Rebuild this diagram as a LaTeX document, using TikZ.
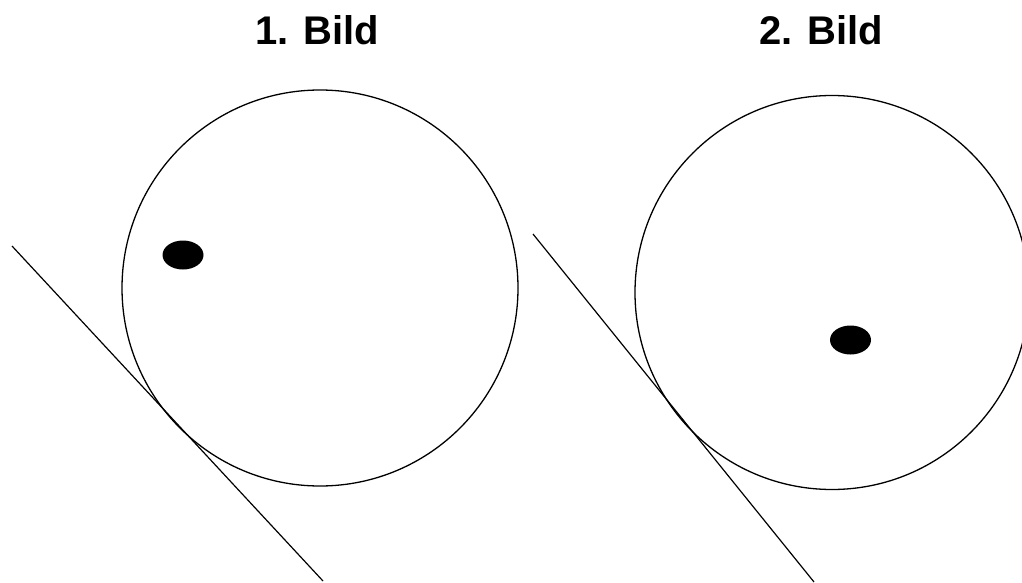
\documentclass[tikz,border=0pt]{standalone}
\usepackage{fontspec}
\setmainfont{Liberation Sans}
\usepackage{tikz}
\usetikzlibrary{positioning,calc}
\tikzset{
  titel/.style={font=\fontsize{40}{48}\selectfont\bfseries, inner sep=0pt, anchor=base},
  rand/.style={draw=black, line width=1.3pt},
  tangente/.style={draw=black, line width=1.2pt},
  punkt/.style={fill=black},
}

\begin{document}
\begin{tikzpicture}[x=1pt, y=-1pt]
\useasboundingbox (0,0) rectangle (1022,583);
\clip (0,0) rectangle (1022,583);
% Bild 1
\coordinate (m1) at (320,288);
\coordinate (a1) at (12,246);
\coordinate (b1) at (323,581);
\node[titel] (t1) at (317,45) {1. Bild};
\draw[rand] (m1) circle [radius=198];
\fill[punkt] (183,255) ellipse [x radius=20.5, y radius=14.5];
\draw[tangente] (a1) -- (b1);
% Bild 2
\coordinate (m2) at (832,292.5);
\coordinate (a2) at (533,234);
\coordinate (b2) at (814,582);
\node[titel] (t2) at (821,45) {2. Bild};
\draw[rand] (m2) circle [radius=197];
\fill[punkt] (850.5,340) ellipse [x radius=20.5, y radius=14.5];
\draw[tangente] (a2) -- (b2);
\end{tikzpicture}
\end{document}
